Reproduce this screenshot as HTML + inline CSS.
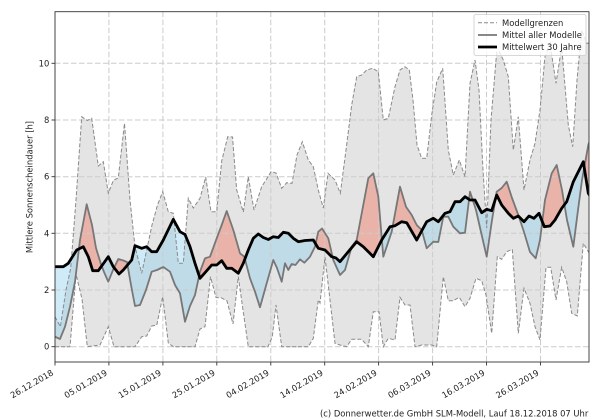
<!DOCTYPE html>
<html>
<head>
<meta charset="utf-8">
<style>
html,body{margin:0;padding:0;background:#fff;}
svg{display:block;}
text{font-family:"DejaVu Sans","Liberation Sans",sans-serif;font-size:8.4px;fill:#222;}
</style>
</head>
<body>
<svg width="600" height="420" viewBox="0 0 600 420" xmlns="http://www.w3.org/2000/svg">
<defs>
<clipPath id="axes"><rect x="55" y="11.7" width="534" height="350.3"/></clipPath>
<clipPath id="aboveC"><polygon points="55,266.7 63.3,266.7 68.3,263.3 76.7,250 83.3,246.7 88.3,256.7 92.7,270.7 98.3,270.7 108.3,256.7 113.3,266.7 119,274 123.3,270 131.7,260 135,245.7 141.7,248.3 146.7,246.7 151.7,251.7 156.7,251.7 163.3,240 173.3,219.3 180,231.7 185,234.5 190,246.7 195,263.3 200,278.3 205,272.7 211.7,265 216.7,265 221.7,260.7 226.7,268.3 231.7,268.3 238.3,273.3 243.3,263.3 248.3,250 253.3,238.3 258.3,234 263.3,237.5 268.3,239.5 273.3,236.7 278.3,237.5 283.3,232.3 288.3,233.3 293.3,238.3 298.3,241.7 305,240.5 313.3,240 318.3,248.3 325,250 331.7,256.7 336,258 340,261.7 348.3,251.7 356.7,241.7 363.3,246.7 373.3,256.7 381.7,240 390,226.7 395,225.7 401.7,221.7 406.7,222.7 416.7,240 426.7,221.7 433.3,218.3 438.3,221.7 445,213.3 450,211.7 455,201.7 460,201.7 465,196.7 470,200 475,200 481.7,212.7 486.7,209.3 491.7,210.7 496.7,195 501.7,205 508.3,213.3 513.3,218.3 518.3,216 524,221.7 529,216 534,218.3 539,213.3 544.3,226.7 550,226 555,220 561.7,208.3 566.7,201.7 573.3,181.7 578.3,171.7 583.3,161.7 588.3,193.3 590,196 590,0 55,0"/></clipPath>
<clipPath id="belowC"><polygon points="55,266.7 63.3,266.7 68.3,263.3 76.7,250 83.3,246.7 88.3,256.7 92.7,270.7 98.3,270.7 108.3,256.7 113.3,266.7 119,274 123.3,270 131.7,260 135,245.7 141.7,248.3 146.7,246.7 151.7,251.7 156.7,251.7 163.3,240 173.3,219.3 180,231.7 185,234.5 190,246.7 195,263.3 200,278.3 205,272.7 211.7,265 216.7,265 221.7,260.7 226.7,268.3 231.7,268.3 238.3,273.3 243.3,263.3 248.3,250 253.3,238.3 258.3,234 263.3,237.5 268.3,239.5 273.3,236.7 278.3,237.5 283.3,232.3 288.3,233.3 293.3,238.3 298.3,241.7 305,240.5 313.3,240 318.3,248.3 325,250 331.7,256.7 336,258 340,261.7 348.3,251.7 356.7,241.7 363.3,246.7 373.3,256.7 381.7,240 390,226.7 395,225.7 401.7,221.7 406.7,222.7 416.7,240 426.7,221.7 433.3,218.3 438.3,221.7 445,213.3 450,211.7 455,201.7 460,201.7 465,196.7 470,200 475,200 481.7,212.7 486.7,209.3 491.7,210.7 496.7,195 501.7,205 508.3,213.3 513.3,218.3 518.3,216 524,221.7 529,216 534,218.3 539,213.3 544.3,226.7 550,226 555,220 561.7,208.3 566.7,201.7 573.3,181.7 578.3,171.7 583.3,161.7 588.3,193.3 590,196 590,420 55,420"/></clipPath>
</defs>

<g clip-path="url(#axes)">
  <!-- model band -->
  <polygon fill="#e4e4e4" points="55,316.7 60.4,326.7 66,290 70.7,268.3 76,200 81.7,116.7 87.3,120.5 91.7,118.3 98.3,166 103.3,161.7 108.3,193.3 113.3,180.5 118.3,177.8 124.5,123.3 130,200 135,246.7 141.7,273.3 146.7,250 152,225 157.5,205 162.7,191.7 168.3,211.7 173.3,213.3 178.3,263.3 183.3,263.3 188.3,198.3 193.3,208 200,198.3 205.7,177 211,211.7 216.7,211.7 221.7,161 227.7,136.7 232.5,137 236.7,190 243.3,212 248.3,176.7 254,210 261.7,186.7 266,180 271,171.7 276,173 281.7,188.3 286.7,182.7 292,183.3 297,155 302.3,141.7 308.3,160 313.3,166.7 318.3,190 323.3,208 328,173.3 335,180 340.3,193.3 346,150 351.7,105 356.7,76.7 361.7,75 366.7,70 372.7,68.3 378.3,71.7 383.3,120 388.3,118.3 395,86.7 400,70 405,66.7 409.3,70 413,100 417,145 421.7,158.3 426.7,158.3 431.7,115 436.7,82 442.7,68.3 448.3,150 453.3,175 459.3,160 465,176.7 470,83.3 475,60 479,90 483,170 486.7,228 491,120 496.7,52 499.3,51.7 503.3,60 508.3,76.7 513.3,150 518.3,116.7 524,190 530,160 535,143.3 540,110 545,56.7 550,43.3 556,83.3 561.7,46.7 568.3,125 572.7,146.7 577,80 581.7,30 586.7,43.3 590,43 590,253 589,252.7 583.3,243.3 577.3,316 571.7,313.3 566.7,281.7 561.7,267.3 556,300 550.7,267.3 546,267.3 540,340 535,326.7 530,303.3 524,288.3 518.3,333.3 512.3,249.3 506.7,251.7 501.7,259.3 497.3,256.7 491.7,333.3 486,295 481.7,280.7 476,278.3 470,298.3 465,306.7 459.3,297.3 453.3,300.7 448.3,300.7 443.3,276.7 436.7,346.7 431.7,345 421.7,345 415,346.7 410,305 405,305 400,297.3 395,340 388.3,338.3 383.3,346.7 379,311.7 373.3,311.7 368.3,346.7 361.7,339.3 351.7,339.3 346.7,346.7 340,345 335,343.3 330,300 325,257 320,303 318.3,300 313.3,338.3 308.3,346.7 281.7,346.7 276,305 272.3,336.7 268,346.7 248.3,346.7 243,310 238.3,276.7 233,324 227,301 221.7,298 216,297.5 210.5,276.7 205,326.7 200,329 195,346.7 173.3,346.7 168.3,343 162.7,296.7 156.7,325.3 151.7,326 146.7,336 141.7,336.7 135,346.7 114,346.7 108.3,326.7 100,345 87.3,346.7 82,299 76,274 70,346.7 55,346.7"/>

  <!-- red: model above climatology -->
  <polygon clip-path="url(#aboveC)" fill="rgba(240,105,80,0.4)" points="55,336.7 60,339 65,326.7 70,306.7 75,281.7 80,240 86.7,204.3 92,225 96,248 100.7,263.3 104,272 108.3,281.7 113,270 118.3,259 123.3,260.5 127,262 131,285 135,306 140,305 146,290 151.7,271.7 157,270 163.3,267 170,271.7 175,285 180,293.3 185,321.7 190,306 195,295 200,271.7 205,258.3 210,256.7 216.7,238.3 221.7,225 226.7,211 233.3,230 240,253.3 244.3,256.7 250,278.3 255,291.7 260,307.3 266.7,283.3 273.3,260 277,268 281.7,281.7 285,263.3 288.3,270 291.7,264 295.5,265 300,259.3 304.3,262.7 310,256.7 315,246.7 318.3,231.7 322,228.5 328.3,238.3 333.3,260 340,275 345,270 351.7,246.7 356.7,240 368.3,178.3 373.3,173.3 378.3,196.7 383.3,256.7 391.7,231.7 400,186.7 406,206.7 411.7,215 416.7,225 421.7,230 426.7,248.3 433.3,241.7 438.3,242 443.3,216.7 448.3,216.7 453.3,226.7 460,233.3 465,232.7 470,191.7 476,210 481,232 486.7,256.7 491.7,222 496.7,191.7 501.7,188 506.7,181.7 512,198 518.3,215 524,232 530,252 535.7,258.3 540,240 545,200 551.7,173.3 556.7,165 562,190 567,220 573.3,246.7 578,210 582,180 588.3,145 590,140 590,420 55,420"/>

  <!-- blue: model below climatology -->
  <polygon clip-path="url(#belowC)" fill="rgba(135,206,235,0.4)" points="55,336.7 60,339 65,326.7 70,306.7 75,281.7 80,240 86.7,204.3 92,225 96,248 100.7,263.3 104,272 108.3,281.7 113,270 118.3,259 123.3,260.5 127,262 131,285 135,306 140,305 146,290 151.7,271.7 157,270 163.3,267 170,271.7 175,285 180,293.3 185,321.7 190,306 195,295 200,271.7 205,258.3 210,256.7 216.7,238.3 221.7,225 226.7,211 233.3,230 240,253.3 244.3,256.7 250,278.3 255,291.7 260,307.3 266.7,283.3 273.3,260 277,268 281.7,281.7 285,263.3 288.3,270 291.7,264 295.5,265 300,259.3 304.3,262.7 310,256.7 315,246.7 318.3,231.7 322,228.5 328.3,238.3 333.3,260 340,275 345,270 351.7,246.7 356.7,240 368.3,178.3 373.3,173.3 378.3,196.7 383.3,256.7 391.7,231.7 400,186.7 406,206.7 411.7,215 416.7,225 421.7,230 426.7,248.3 433.3,241.7 438.3,242 443.3,216.7 448.3,216.7 453.3,226.7 460,233.3 465,232.7 470,191.7 476,210 481,232 486.7,256.7 491.7,222 496.7,191.7 501.7,188 506.7,181.7 512,198 518.3,215 524,232 530,252 535.7,258.3 540,240 545,200 551.7,173.3 556.7,165 562,190 567,220 573.3,246.7 578,210 582,180 588.3,145 590,140 590,0 55,0"/>

  <!-- grid -->
  <g stroke="#cbcbcb" stroke-width="1" stroke-dasharray="5.5,2.5" fill="none">
    <line x1="55" y1="11.7" x2="55" y2="362"/>
    <line x1="108.9" y1="11.7" x2="108.9" y2="362"/>
    <line x1="162.9" y1="11.7" x2="162.9" y2="362"/>
    <line x1="216.8" y1="11.7" x2="216.8" y2="362"/>
    <line x1="270.8" y1="11.7" x2="270.8" y2="362"/>
    <line x1="324.7" y1="11.7" x2="324.7" y2="362"/>
    <line x1="378.6" y1="11.7" x2="378.6" y2="362"/>
    <line x1="432.6" y1="11.7" x2="432.6" y2="362"/>
    <line x1="486.5" y1="11.7" x2="486.5" y2="362"/>
    <line x1="540.5" y1="11.7" x2="540.5" y2="362"/>
    <line x1="55" y1="346.7" x2="589" y2="346.7"/>
    <line x1="55" y1="290" x2="589" y2="290"/>
    <line x1="55" y1="233.3" x2="589" y2="233.3"/>
    <line x1="55" y1="176.7" x2="589" y2="176.7"/>
    <line x1="55" y1="120" x2="589" y2="120"/>
    <line x1="55" y1="63.3" x2="589" y2="63.3"/>
  </g>

  <!-- upper & lower boundaries -->
  <polyline fill="none" stroke="#8a8a8a" stroke-width="1" stroke-dasharray="4,2" points="55,316.7 60.4,326.7 66,290 70.7,268.3 76,200 81.7,116.7 87.3,120.5 91.7,118.3 98.3,166 103.3,161.7 108.3,193.3 113.3,180.5 118.3,177.8 124.5,123.3 130,200 135,246.7 141.7,273.3 146.7,250 152,225 157.5,205 162.7,191.7 168.3,211.7 173.3,213.3 178.3,263.3 183.3,263.3 188.3,198.3 193.3,208 200,198.3 205.7,177 211,211.7 216.7,211.7 221.7,161 227.7,136.7 232.5,137 236.7,190 243.3,212 248.3,176.7 254,210 261.7,186.7 266,180 271,171.7 276,173 281.7,188.3 286.7,182.7 292,183.3 297,155 302.3,141.7 308.3,160 313.3,166.7 318.3,190 323.3,208 328,173.3 335,180 340.3,193.3 346,150 351.7,105 356.7,76.7 361.7,75 366.7,70 372.7,68.3 378.3,71.7 383.3,120 388.3,118.3 395,86.7 400,70 405,66.7 409.3,70 413,100 417,145 421.7,158.3 426.7,158.3 431.7,115 436.7,82 442.7,68.3 448.3,150 453.3,175 459.3,160 465,176.7 470,83.3 475,60 479,90 483,170 486.7,228 491,120 496.7,52 499.3,51.7 503.3,60 508.3,76.7 513.3,150 518.3,116.7 524,190 530,160 535,143.3 540,110 545,56.7 550,43.3 556,83.3 561.7,46.7 568.3,125 572.7,146.7 577,80 581.7,30 586.7,43.3 590,43"/>
  <polyline fill="none" stroke="#8a8a8a" stroke-width="1" stroke-dasharray="4,2" points="55,346.7 70,346.7 76,274 82,299 87.3,346.7 100,345 108.3,326.7 114,346.7 135,346.7 141.7,336.7 146.7,336 151.7,326 156.7,325.3 162.7,296.7 168.3,343 173.3,346.7 195,346.7 200,329 205,326.7 210.5,276.7 216,297.5 221.7,298 227,301 233,324 238.3,276.7 243,310 248.3,346.7 268,346.7 272.3,336.7 276,305 281.7,346.7 308.3,346.7 313.3,338.3 318.3,300 320,303 325,257 330,300 335,343.3 340,345 346.7,346.7 351.7,339.3 361.7,339.3 368.3,346.7 373.3,311.7 379,311.7 383.3,346.7 388.3,338.3 395,340 400,297.3 405,305 410,305 415,346.7 421.7,345 431.7,345 436.7,346.7 443.3,276.7 448.3,300.7 453.3,300.7 459.3,297.3 465,306.7 470,298.3 476,278.3 481.7,280.7 486,295 491.7,333.3 497.3,256.7 501.7,259.3 506.7,251.7 512.3,249.3 518.3,333.3 524,288.3 530,303.3 535,326.7 540,340 546,267.3 550.7,267.3 556,300 561.7,267.3 566.7,281.7 571.7,313.3 577.3,316 583.3,243.3 589,252.7"/>

  <!-- model mean -->
  <polyline fill="none" stroke="#777" stroke-width="1.8" stroke-linejoin="round" points="55,336.7 60,339 65,326.7 70,306.7 75,281.7 80,240 86.7,204.3 92,225 96,248 100.7,263.3 104,272 108.3,281.7 113,270 118.3,259 123.3,260.5 127,262 131,285 135,306 140,305 146,290 151.7,271.7 157,270 163.3,267 170,271.7 175,285 180,293.3 185,321.7 190,306 195,295 200,271.7 205,258.3 210,256.7 216.7,238.3 221.7,225 226.7,211 233.3,230 240,253.3 244.3,256.7 250,278.3 255,291.7 260,307.3 266.7,283.3 273.3,260 277,268 281.7,281.7 285,263.3 288.3,270 291.7,264 295.5,265 300,259.3 304.3,262.7 310,256.7 315,246.7 318.3,231.7 322,228.5 328.3,238.3 333.3,260 340,275 345,270 351.7,246.7 356.7,240 368.3,178.3 373.3,173.3 378.3,196.7 383.3,256.7 391.7,231.7 400,186.7 406,206.7 411.7,215 416.7,225 421.7,230 426.7,248.3 433.3,241.7 438.3,242 443.3,216.7 448.3,216.7 453.3,226.7 460,233.3 465,232.7 470,191.7 476,210 481,232 486.7,256.7 491.7,222 496.7,191.7 501.7,188 506.7,181.7 512,198 518.3,215 524,232 530,252 535.7,258.3 540,240 545,200 551.7,173.3 556.7,165 562,190 567,220 573.3,246.7 578,210 582,180 588.3,145 590,140"/>

  <!-- 30-year mean -->
  <polyline fill="none" stroke="#000" stroke-width="2.8" stroke-linejoin="round" points="55,266.7 63.3,266.7 68.3,263.3 76.7,250 83.3,246.7 88.3,256.7 92.7,270.7 98.3,270.7 108.3,256.7 113.3,266.7 119,274 123.3,270 131.7,260 135,245.7 141.7,248.3 146.7,246.7 151.7,251.7 156.7,251.7 163.3,240 173.3,219.3 180,231.7 185,234.5 190,246.7 195,263.3 200,278.3 205,272.7 211.7,265 216.7,265 221.7,260.7 226.7,268.3 231.7,268.3 238.3,273.3 243.3,263.3 248.3,250 253.3,238.3 258.3,234 263.3,237.5 268.3,239.5 273.3,236.7 278.3,237.5 283.3,232.3 288.3,233.3 293.3,238.3 298.3,241.7 305,240.5 313.3,240 318.3,248.3 325,250 331.7,256.7 336,258 340,261.7 348.3,251.7 356.7,241.7 363.3,246.7 373.3,256.7 381.7,240 390,226.7 395,225.7 401.7,221.7 406.7,222.7 416.7,240 426.7,221.7 433.3,218.3 438.3,221.7 445,213.3 450,211.7 455,201.7 460,201.7 465,196.7 470,200 475,200 481.7,212.7 486.7,209.3 491.7,210.7 496.7,195 501.7,205 508.3,213.3 513.3,218.3 518.3,216 524,221.7 529,216 534,218.3 539,213.3 544.3,226.7 550,226 555,220 561.7,208.3 566.7,201.7 573.3,181.7 578.3,171.7 583.3,161.7 588.3,193.3 590,196"/>
</g>

<!-- axes frame -->
<rect x="55" y="11.7" width="534" height="350.3" fill="none" stroke="#333" stroke-width="0.9"/>

<!-- ticks -->
<g stroke="#333" stroke-width="0.9">
  <line x1="51.5" y1="346.7" x2="55" y2="346.7"/>
  <line x1="51.5" y1="290" x2="55" y2="290"/>
  <line x1="51.5" y1="233.3" x2="55" y2="233.3"/>
  <line x1="51.5" y1="176.7" x2="55" y2="176.7"/>
  <line x1="51.5" y1="120" x2="55" y2="120"/>
  <line x1="51.5" y1="63.3" x2="55" y2="63.3"/>
  <line x1="55" y1="362" x2="55" y2="365.5"/>
  <line x1="108.9" y1="362" x2="108.9" y2="365.5"/>
  <line x1="162.9" y1="362" x2="162.9" y2="365.5"/>
  <line x1="216.8" y1="362" x2="216.8" y2="365.5"/>
  <line x1="270.8" y1="362" x2="270.8" y2="365.5"/>
  <line x1="324.7" y1="362" x2="324.7" y2="365.5"/>
  <line x1="378.6" y1="362" x2="378.6" y2="365.5"/>
  <line x1="432.6" y1="362" x2="432.6" y2="365.5"/>
  <line x1="486.5" y1="362" x2="486.5" y2="365.5"/>
  <line x1="540.5" y1="362" x2="540.5" y2="365.5"/>
</g>

<!-- y tick labels -->
<g text-anchor="end">
  <text x="49.3" y="349.7">0</text>
  <text x="49.3" y="293">2</text>
  <text x="49.3" y="236.3">4</text>
  <text x="49.3" y="179.7">6</text>
  <text x="49.3" y="123">8</text>
  <text x="49.3" y="66.3">10</text>
</g>

<!-- y axis label -->
<text transform="translate(32.3,187) rotate(-90)" text-anchor="middle">Mittlere Sonnenscheindauer [h]</text>

<!-- x tick labels -->
<g text-anchor="end">
  <text transform="translate(54,374.5) rotate(-30)">26.12.2018</text>
  <text transform="translate(107.9,374.5) rotate(-30)">05.01.2019</text>
  <text transform="translate(161.9,374.5) rotate(-30)">15.01.2019</text>
  <text transform="translate(215.8,374.5) rotate(-30)">25.01.2019</text>
  <text transform="translate(269.8,374.5) rotate(-30)">04.02.2019</text>
  <text transform="translate(323.7,374.5) rotate(-30)">14.02.2019</text>
  <text transform="translate(377.6,374.5) rotate(-30)">24.02.2019</text>
  <text transform="translate(431.6,374.5) rotate(-30)">06.03.2019</text>
  <text transform="translate(485.5,374.5) rotate(-30)">16.03.2019</text>
  <text transform="translate(539.5,374.5) rotate(-30)">26.03.2019</text>
</g>

<!-- legend -->
<rect x="474" y="14.5" width="112" height="41" rx="2" ry="2" fill="rgba(255,255,255,0.8)" stroke="#cccccc" stroke-width="0.8"/>
<line x1="478" y1="22.8" x2="497" y2="22.8" stroke="#8a8a8a" stroke-width="1" stroke-dasharray="4,2"/>
<line x1="478" y1="35" x2="497" y2="35" stroke="#777" stroke-width="1.8"/>
<line x1="478" y1="47" x2="497" y2="47" stroke="#000" stroke-width="2.8"/>
<text x="502" y="25.8">Modellgrenzen</text>
<text x="502" y="38">Mittel aller Modelle</text>
<text x="502" y="50">Mittelwert 30 Jahre</text>

<!-- copyright -->
<text x="588.3" y="416.5" text-anchor="end">(c) Donnerwetter.de GmbH SLM-Modell, Lauf 18.12.2018 07 Uhr</text>
</svg>
</body>
</html>
